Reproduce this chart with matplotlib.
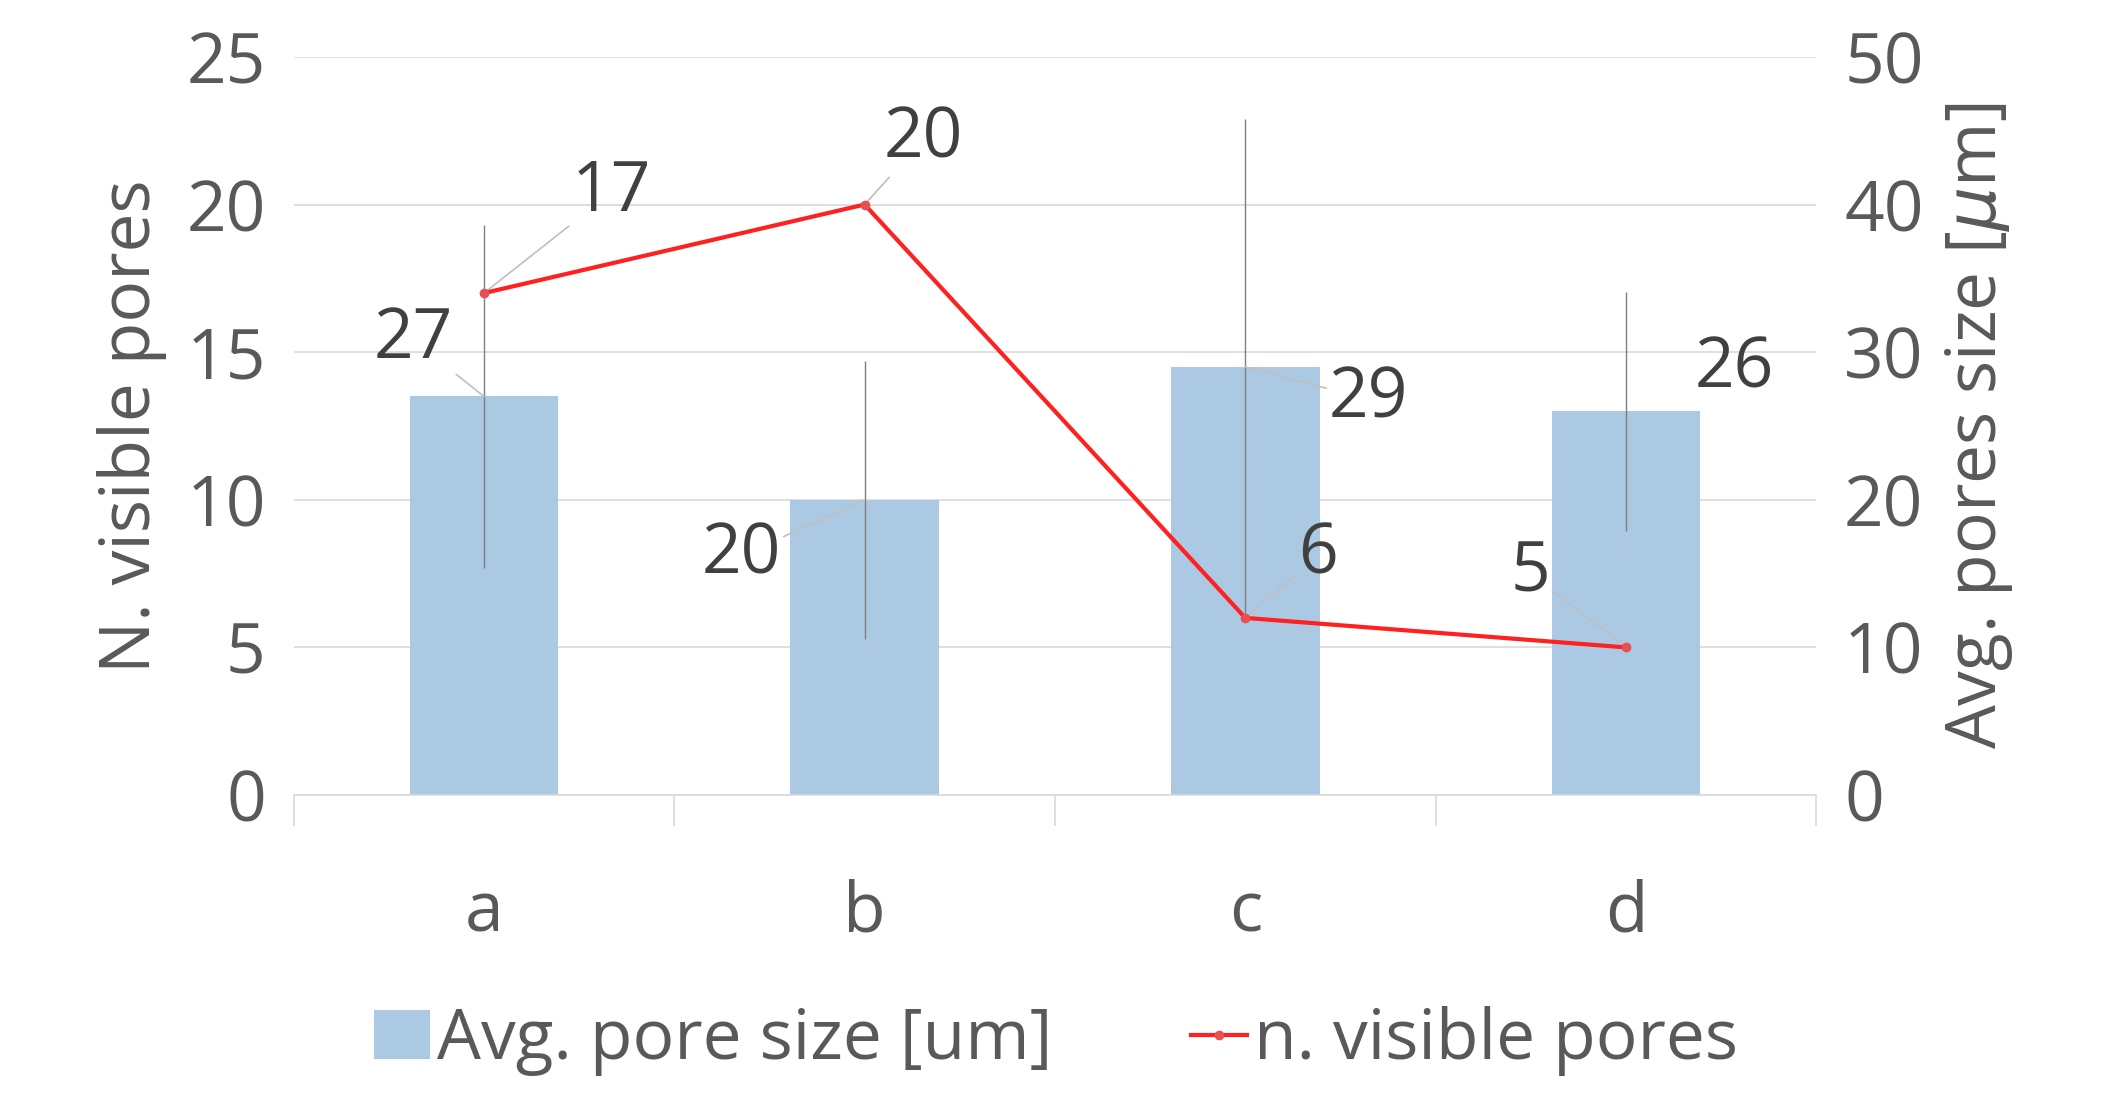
import matplotlib.pyplot as plt

plt.rcParams['font.family'] = ['Open Sans', 'DejaVu Sans']

categories = ['a', 'b', 'c', 'd']
pore_size = [27, 20, 29, 26]          # um, right axis
pore_err = [11.6, 9.4, 16.8, 8.1]     # um
n_pores = [17, 20, 6, 5]              # left axis

grey = '#595959'
fig = plt.figure(figsize=(21.12, 11.05), dpi=100)
ax = fig.add_axes([0.139, 0.2805, 0.721, 0.668])
ax2 = ax.twinx()
x = range(len(categories))

ax2.bar(x, pore_size, width=0.39, color='#abc9e3', label='Avg. pore size [um]', zorder=2)
ax2.errorbar(x, pore_size, yerr=pore_err, fmt='none', ecolor='#7f7f7f', elinewidth=1, zorder=3)
ax.plot(x, n_pores, color='#ff2020', lw=3, marker='o', ms=6, mfc='#e85050', mec='#e85050',
        label='n. visible pores', zorder=5)
ax.set_zorder(ax2.get_zorder() + 1)
ax.patch.set_visible(False)

fs = 50
ax.set_xlim(-0.5, 3.5)
ax.set_ylim(0, 25)
ax2.set_ylim(0, 50)
ax.set_yticks(range(0, 26, 5))
ax2.set_yticks(range(0, 51, 10))
ax2.yaxis.grid(True, color='#d9d9d9', lw=1.2)
ax2.set_axisbelow(True)
ax.set_xticks(list(x))
ax.set_xticklabels(categories)
ax.set_xticks([-0.5, 0.5, 1.5, 2.5, 3.5], minor=True)
ax.tick_params(axis='x', which='major', length=0, pad=60, labelsize=fs, colors=grey)
ax.tick_params(axis='x', which='minor', length=22, color='#d9d9d9', width=1.2)
ax.tick_params(axis='y', length=0, labelsize=fs, colors=grey, pad=20)
ax2.tick_params(axis='y', length=0, labelsize=fs, colors=grey, pad=20)
for a in (ax, ax2):
    for s in a.spines.values():
        s.set_visible(False)
ax.spines['bottom'].set_visible(True)
ax.spines['bottom'].set_color('#d9d9d9')
ax.spines['bottom'].set_linewidth(1.2)
ax.set_ylabel('N. visible pores', fontsize=fs, color=grey, labelpad=14)
ax2.set_ylabel('Avg. pores size [$\\mu$m]', fontsize=fs, color=grey, labelpad=14)

# data labels (left-axis units), text position and leader line
lead = dict(arrowstyle='-', color='#bfbfbf', lw=1.2, shrinkA=0, shrinkB=0)
tc = '#404040'
ax.annotate('17', (0, n_pores[0]), xytext=(0.23, 20.4), fontsize=fs, color=tc, va='center', ha='left', arrowprops=lead)
ax.annotate('20', (1, n_pores[1]), xytext=(1.05, 22.2), fontsize=fs, color=tc, va='center', ha='left', arrowprops=lead)
ax.annotate('6', (2, n_pores[2]), xytext=(2.14, 8.1), fontsize=fs, color=tc, va='center', ha='left', arrowprops=lead)
ax.annotate('5', (3, n_pores[3]), xytext=(2.8, 7.5), fontsize=fs, color=tc, va='center', ha='right', arrowprops=lead)
ax.annotate('27', (0, pore_size[0] / 2), xytext=(-0.08, 15.4), fontsize=fs, color=tc, va='center', ha='right', arrowprops=lead)
ax.annotate('20', (1, pore_size[1] / 2), xytext=(0.78, 8.1), fontsize=fs, color=tc, va='center', ha='right', arrowprops=lead)
ax.annotate('29', (2, pore_size[2] / 2), xytext=(2.22, 13.4), fontsize=fs, color=tc, va='center', ha='left', arrowprops=lead)
ax.annotate('26', (3, pore_size[3] / 2), xytext=(3.18, 14.4), fontsize=fs, color=tc, va='center', ha='left')

h1, l1 = ax2.get_legend_handles_labels()
h2, l2 = ax.get_legend_handles_labels()
fig.legend(h1 + h2, l1 + l2, loc='center', bbox_to_anchor=(0.5, 0.058), ncol=2, frameon=False,
           fontsize=fs, labelcolor=grey, handlelength=0.8, handletextpad=0.1, columnspacing=2.0)

fig.savefig('out.png', dpi=100)
